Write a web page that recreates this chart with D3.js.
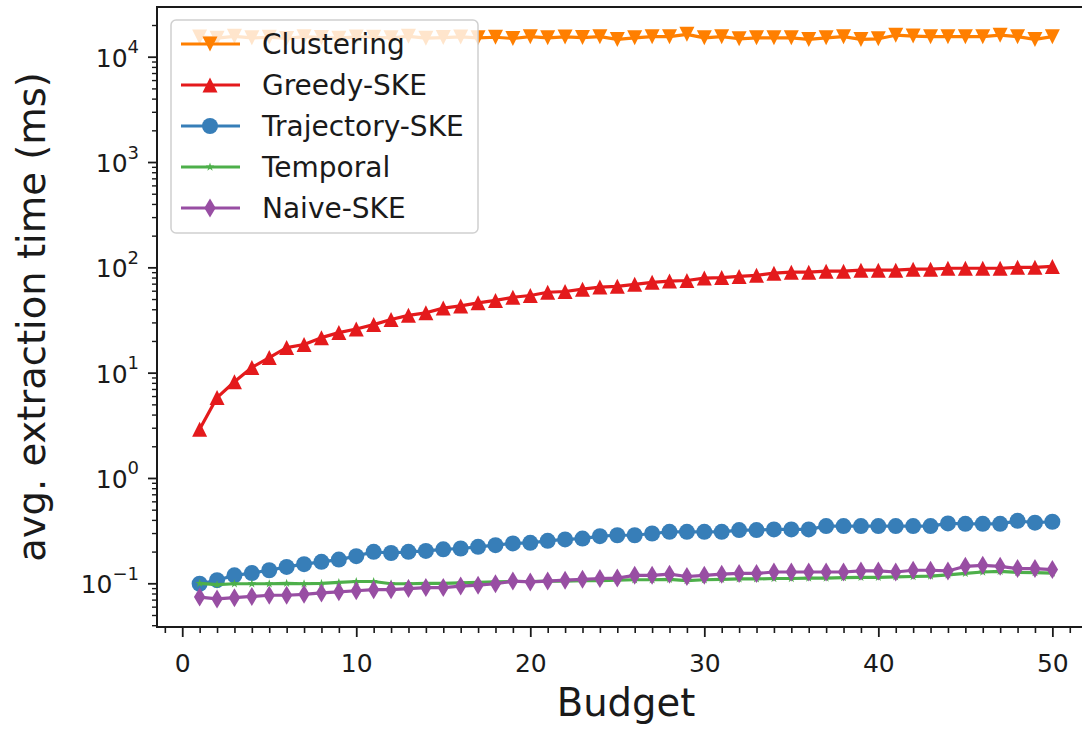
<html>
<head>
    <meta charset="utf-8">
    <title>avg. extraction time</title>
    <style>
        body { margin: 0; background: #fff; }
        text { font-family: "DejaVu Sans", sans-serif; fill: #1a1a1a; }
    </style>
</head>
<body>
<script src="https://cdn.jsdelivr.net/npm/d3@7/dist/d3.min.js"></script>
<script>
    var width = 1082, height = 729;

    const budget = [1, 2, 3, 4, 5, 6, 7, 8, 9, 10, 11, 12, 13, 14, 15, 16, 17, 18, 19, 20, 21, 22, 23, 24, 25,
        26, 27, 28, 29, 30, 31, 32, 33, 34, 35, 36, 37, 38, 39, 40, 41, 42, 43, 44, 45, 46, 47, 48, 49, 50];

    const clustering = [15400, 15000, 15600, 15100, 15300, 14900, 15500, 15200, 15000, 15400,
        15300, 15100, 15600, 15000, 15200, 15400, 15100, 15300, 14900, 15500,
        15100, 15400, 15200, 15500, 14600, 15100, 15500, 15500, 16300, 15100,
        15500, 14800, 15100, 15100, 15100, 14600, 15100, 15500, 14600, 14800,
        16000, 15700, 15500, 15500, 15500, 15500, 16000, 15500, 14600, 15500];
    const greedy = [2.9, 5.8, 8.2, 11.2, 13.9, 17.3, 18.5, 21.5, 24, 26,
        28.6, 32, 35, 37, 41, 43, 46, 48.5, 52, 54,
        58, 59, 62, 65, 66, 69, 72, 74, 75, 79,
        80, 82, 84, 88, 90, 90, 92, 92, 94, 94,
        94, 96, 96, 98, 98, 98, 98, 100, 100, 102];
    const trajectory = [0.099, 0.107, 0.119, 0.125, 0.133, 0.143, 0.152, 0.160, 0.168, 0.181,
        0.199, 0.194, 0.199, 0.203, 0.210, 0.214, 0.222, 0.230, 0.239, 0.242,
        0.253, 0.261, 0.266, 0.280, 0.286, 0.286, 0.297, 0.308, 0.308, 0.308,
        0.308, 0.320, 0.320, 0.325, 0.325, 0.325, 0.349, 0.349, 0.349, 0.349,
        0.349, 0.349, 0.349, 0.370, 0.367, 0.367, 0.367, 0.392, 0.376, 0.384];
    const temporal = [0.100, 0.097, 0.099, 0.099, 0.099, 0.100, 0.099, 0.100, 0.102, 0.104,
        0.104, 0.099, 0.099, 0.100, 0.100, 0.101, 0.102, 0.103, 0.104, 0.104,
        0.105, 0.105, 0.106, 0.106, 0.107, 0.108, 0.108, 0.109, 0.106, 0.108,
        0.109, 0.110, 0.110, 0.111, 0.111, 0.112, 0.112, 0.113, 0.114, 0.114,
        0.115, 0.116, 0.117, 0.120, 0.124, 0.128, 0.130, 0.127, 0.126, 0.125];
    const naive = [0.074, 0.071, 0.073, 0.075, 0.077, 0.077, 0.0785, 0.081, 0.083, 0.085,
        0.087, 0.087, 0.089, 0.091, 0.091, 0.094, 0.096, 0.099, 0.105, 0.103,
        0.105, 0.107, 0.109, 0.111, 0.112, 0.119, 0.119, 0.122, 0.116, 0.119,
        0.122, 0.124, 0.124, 0.128, 0.128, 0.128, 0.128, 0.128, 0.131, 0.131,
        0.128, 0.133, 0.133, 0.131, 0.145, 0.148, 0.145, 0.138, 0.138, 0.135];

    const seriesNames = ["Clustering", "Greedy-SKE", "Trajectory-SKE", "Temporal", "Naive-SKE"];
    const seriesValues = [clustering, greedy, trajectory, temporal, naive];
    const seriesColors = ["#ff7f00", "#e41a1c", "#377eb8", "#4daf4a", "#984ea3"];
    const seriesMarkers = ["triangleDown", "triangleUp", "circle", "star", "thinDiamond"];

    const xTicks = [0, 10, 20, 30, 40, 50];
    const yTicks = [0.1, 1, 10, 100, 1000, 10000];
    const yExponents = ["\u22121", "0", "1", "2", "3", "4"];

    var svg = d3.select("body").append("svg")
        .attr("width", width)
        .attr("height", height);

    var pLeft = 157, pRight = 1095, pTop = 7, pBottom = 627;

    var x = d3.scaleLinear().domain([-1.45, 52.45]).range([pLeft, pRight]);
    var y = d3.scaleLog().domain([Math.pow(10, -1.415), Math.pow(10, 4.472)]).range([pBottom, pTop]);

    // marker shapes, drawn round (0,0)
    function markerPath(type, s) {
        var h = s / 2;
        if (type == "triangleUp") return "M0," + (-h) + "L" + h + "," + h + "L" + (-h) + "," + h + "Z";
        if (type == "triangleDown") return "M0," + h + "L" + h + "," + (-h) + "L" + (-h) + "," + (-h) + "Z";
        if (type == "thinDiamond") return "M0," + (-h) + "L" + (h * 0.6) + ",0L0," + h + "L" + (-h * 0.6) + ",0Z";
        if (type == "circle") return "M" + h + ",0A" + h + "," + h + " 0 1,1 " + (-h) + ",0A" + h + "," + h + " 0 1,1 " + h + ",0Z";
        if (type == "star") {
            var p = [];
            for (var k = 0; k < 10; k++) {
                var r = k % 2 == 0 ? h : h * 0.38;
                var a = -Math.PI / 2 + k * Math.PI / 5;
                p.push([r * Math.cos(a), r * Math.sin(a)]);
            }
            return "M" + p.join("L") + "Z";
        }
    }
    var markerSize = [15, 15, 16, 9, 19];

    svg.append("clipPath").attr("id", "plotclip")
        .append("rect").attr("x", pLeft).attr("y", pTop).attr("width", pRight - pLeft).attr("height", pBottom - pTop);

    var line = d3.line()
        .x((d, i) => x(budget[i]))
        .y(d => y(d));

    var plot = svg.append("g").attr("clip-path", "url(#plotclip)");

    seriesValues.forEach(function (vals, s) {
        var g = plot.append("g");
        g.append("path")
            .attr("d", line(vals))
            .attr("fill", "none")
            .attr("stroke", seriesColors[s])
            .attr("stroke-width", 3.2)
            .attr("stroke-linejoin", "round");
        g.selectAll("path.mk")
            .data(vals)
            .enter()
            .append("path")
            .attr("class", "mk")
            .attr("transform", (d, i) => "translate(" + x(budget[i]) + "," + y(d) + ")")
            .attr("d", markerPath(seriesMarkers[s], markerSize[s]))
            .attr("fill", seriesColors[s]);
    });

    // axes
    var xMinor = d3.range(-1, 53).filter(v => v % 10 != 0);
    svg.append("g")
        .attr("transform", "translate(0," + pBottom + ")")
        .call(d3.axisBottom(x).tickValues(xMinor).tickSize(6).tickFormat(""))
        .call(g => g.select(".domain").remove())
        .selectAll("line").attr("stroke", "#1a1a1a").attr("stroke-width", 1.6);

    svg.append("g")
        .attr("transform", "translate(0," + pBottom + ")")
        .call(d3.axisBottom(x).tickValues(xTicks).tickSize(10).tickPadding(17))
        .call(g => g.select(".domain").remove())
        .call(g => g.selectAll("line").attr("stroke", "#1a1a1a").attr("stroke-width", 1.8))
        .call(g => g.selectAll("text").attr("font-size", 25).attr("font-family", "DejaVu Sans").attr("fill", "#1a1a1a"));

    var yMinor = [];
    for (var k = -2; k <= 4; k++) {
        for (var m = 2; m <= 9; m++) {
            var v = m * Math.pow(10, k);
            if (v >= y.domain()[0] && v <= y.domain()[1]) yMinor.push(v);
        }
    }
    svg.append("g")
        .attr("transform", "translate(" + pLeft + ",0)")
        .call(d3.axisLeft(y).tickValues(yMinor).tickSize(5).tickFormat(""))
        .call(g => g.select(".domain").remove())
        .selectAll("line").attr("stroke", "#1a1a1a").attr("stroke-width", 1.4);

    var yAxis = svg.append("g")
        .attr("transform", "translate(" + pLeft + ",0)")
        .call(d3.axisLeft(y).tickValues(yTicks).tickSize(9).tickPadding(9).tickFormat(""))
        .call(g => g.select(".domain").remove());
    yAxis.selectAll("line").attr("stroke", "#1a1a1a").attr("stroke-width", 1.8);
    yAxis.selectAll(".tick text")
        .attr("font-size", 25)
        .attr("font-family", "DejaVu Sans")
        .attr("fill", "#1a1a1a")
        .attr("dy", "0.38em")
        .each(function (d, i) {
            var t = d3.select(this);
            t.append("tspan").text("10");
            t.append("tspan").attr("font-size", 18).attr("dy", "-0.75em").text(yExponents[i]);
        });

    // spines
    svg.append("rect")
        .attr("x", pLeft).attr("y", pTop)
        .attr("width", pRight - pLeft).attr("height", pBottom - pTop)
        .attr("fill", "none").attr("stroke", "#1a1a1a").attr("stroke-width", 2);

    // axis titles
    svg.append("text")
        .attr("x", 626).attr("y", 716)
        .attr("text-anchor", "middle")
        .attr("font-size", 38.5)
        .text("Budget");

    svg.append("text")
        .attr("transform", "translate(45,317) rotate(-90)")
        .attr("text-anchor", "middle")
        .attr("font-size", 38.5)
        .text("avg. extraction time (ms)");

    // legend
    var legend = svg.append("g");
    legend.append("rect")
        .attr("x", 171).attr("y", 20).attr("width", 307).attr("height", 213)
        .attr("rx", 5)
        .attr("fill", "#fff").attr("fill-opacity", 0.8)
        .attr("stroke", "#d0d0d0").attr("stroke-width", 1.5);

    seriesNames.forEach(function (name, s) {
        var ly = 44 + s * 41;
        legend.append("line")
            .attr("x1", 181).attr("x2", 240).attr("y1", ly).attr("y2", ly)
            .attr("stroke", seriesColors[s]).attr("stroke-width", 3.2);
        legend.append("path")
            .attr("transform", "translate(210," + ly + ")")
            .attr("d", markerPath(seriesMarkers[s], markerSize[s]))
            .attr("fill", seriesColors[s]);
        legend.append("text")
            .attr("x", 262).attr("y", ly + 10)
            .attr("font-size", 28)
            .text(name);
    });
</script>
</body>
</html>
